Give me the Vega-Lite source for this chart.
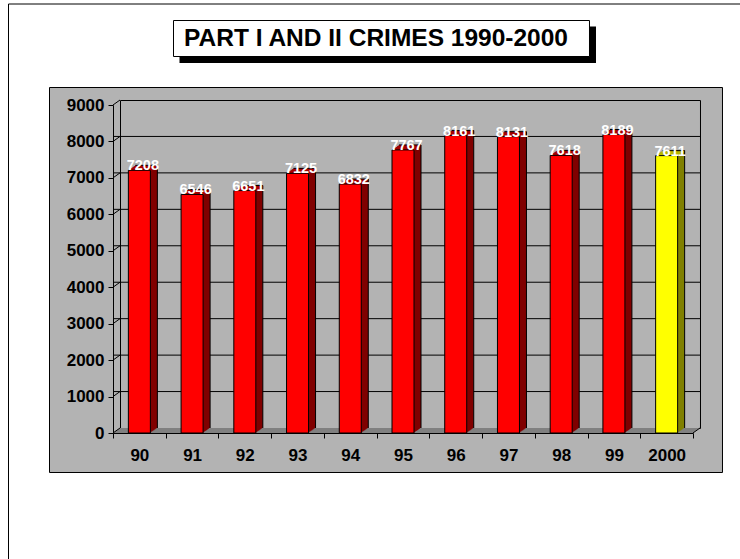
{
  "$schema": "https://vega.github.io/schema/vega-lite/v6.json",
  "width": 580,
  "height": 328,
  "autosize": "none",
  "padding": {"left": 113, "top": 105, "right": 47, "bottom": 126},
  "background": "white",
  "config": {
    "view": {"stroke": null},
    "axis": {"domainColor": "black", "tickColor": "black", "labelColor": "black", "labelFont": "Liberation Sans", "labelFontSize": 17, "labelFontWeight": "bold", "tickSize": 5, "grid": false, "zindex": 1, "labelOverlap": false},
    "axisX": {"labelAngle": 0, "tickBand": "extent", "labelPadding": 9},
    "axisY": {"labelPadding": 4, "tickCount": 9, "format": "d"}
  },
  "datasets": {
    "crimes": [
      {"year": "90", "crimes": 7208},
      {"year": "91", "crimes": 6546},
      {"year": "92", "crimes": 6651},
      {"year": "93", "crimes": 7125},
      {"year": "94", "crimes": 6832},
      {"year": "95", "crimes": 7767},
      {"year": "96", "crimes": 8161},
      {"year": "97", "crimes": 8131},
      {"year": "98", "crimes": 7618},
      {"year": "99", "crimes": 8189},
      {"year": "2000", "crimes": 7611}
    ],
    "grid": [{"v": 1000}, {"v": 2000}, {"v": 3000}, {"v": 4000}, {"v": 5000}, {"v": 6000}, {"v": 7000}, {"v": 8000}],
    "ticks": [{"v": 0}, {"v": 1000}, {"v": 2000}, {"v": 3000}, {"v": 4000}, {"v": 5000}, {"v": 6000}, {"v": 7000}, {"v": 8000}, {"v": 9000}],
    "one": [{"t": "PART I AND II CRIMES 1990-2000"}]
  },
  "data": {"name": "crimes"},
  "layer": [
    {"data": {"name": "one"}, "mark": {"type": "rect", "fillOpacity": 0, "stroke": "black", "strokeWidth": 1, "xOffset": -130.86, "x2Offset": 133.36, "yOffset": -101, "y2Offset": 167}, "encoding": {"x": {"datum": "90", "type": "nominal", "bandPosition": 0.5, "scale": {"domain": ["90", "91", "92", "93", "94", "95", "96", "97", "98", "99", "2000"], "paddingInner": 0, "paddingOuter": 0}, "title": null, "axis": {"zindex": 1}}, "x2": {"datum": "2000", "bandPosition": 0.5}, "y": {"datum": 9000, "type": "quantitative", "scale": {"domain": [0, 9000], "nice": false}, "title": null, "axis": {"zindex": 1}}, "y2": {"datum": 0}}},
    {"data": {"name": "one"}, "mark": {"type": "rect", "fill": "#b3b3b3", "stroke": "black", "strokeWidth": 1, "xOffset": -89.86, "x2Offset": 55.86, "yOffset": -17.5, "y2Offset": 39.5}, "encoding": {"x": {"datum": "90", "type": "nominal", "bandPosition": 0.5, "scale": {"domain": ["90", "91", "92", "93", "94", "95", "96", "97", "98", "99", "2000"], "paddingInner": 0, "paddingOuter": 0}, "title": null}, "x2": {"datum": "2000", "bandPosition": 0.5}, "y": {"datum": 9000, "type": "quantitative", "scale": {"domain": [0, 9000], "nice": false}, "title": null}, "y2": {"datum": 0}}},
    {"data": {"name": "one"}, "mark": {"type": "rect", "fill": "black", "strokeWidth": 0, "xOffset": 40.14, "x2Offset": -70.64, "yOffset": -78.5, "y2Offset": -370}, "encoding": {"x": {"datum": "90", "type": "nominal", "bandPosition": 0.5, "scale": {"domain": ["90", "91", "92", "93", "94", "95", "96", "97", "98", "99", "2000"], "paddingInner": 0, "paddingOuter": 0}, "title": null}, "x2": {"datum": "2000", "bandPosition": 0.5}, "y": {"datum": 9000, "type": "quantitative", "scale": {"domain": [0, 9000], "nice": false}, "title": null}, "y2": {"datum": 0}}},
    {"data": {"name": "one"}, "mark": {"type": "rect", "fill": "white", "stroke": "black", "strokeWidth": 1, "xOffset": 34.14, "x2Offset": -77.14, "yOffset": -84.5, "y2Offset": -376.5}, "encoding": {"x": {"datum": "90", "type": "nominal", "bandPosition": 0.5, "scale": {"domain": ["90", "91", "92", "93", "94", "95", "96", "97", "98", "99", "2000"], "paddingInner": 0, "paddingOuter": 0}, "title": null}, "x2": {"datum": "2000", "bandPosition": 0.5}, "y": {"datum": 9000, "type": "quantitative", "scale": {"domain": [0, 9000], "nice": false}, "title": null}, "y2": {"datum": 0}}},
    {"data": {"name": "one"}, "mark": {"type": "text", "font": "Liberation Sans", "fontSize": 24.5, "fontWeight": "bold", "color": "black", "align": "center", "baseline": "alphabetic", "xOffset": -27, "yOffset": -223.3}, "encoding": {"text": {"field": "t"}}},
    {"data": {"name": "one"}, "mark": {"type": "rect", "fillOpacity": 0, "stroke": "black", "strokeWidth": 1, "xOffset": -18.86, "x2Offset": 33.86, "yOffset": -4.5, "y2Offset": -4.5}, "encoding": {"x": {"datum": "90", "type": "nominal", "bandPosition": 0.5, "scale": {"domain": ["90", "91", "92", "93", "94", "95", "96", "97", "98", "99", "2000"], "paddingInner": 0, "paddingOuter": 0}, "title": null}, "x2": {"datum": "2000", "bandPosition": 0.5}, "y": {"datum": 9000, "type": "quantitative", "scale": {"domain": [0, 9000], "nice": false}, "title": null}, "y2": {"datum": 0}}},
    {"data": {"name": "grid"}, "mark": {"type": "rule", "color": "black", "strokeWidth": 1, "xOffset": 7, "x2Offset": 7, "yOffset": -5}, "encoding": {"y": {"field": "v", "type": "quantitative", "scale": {"domain": [0, 9000], "nice": false}, "title": null}}},
    {"data": {"name": "one"}, "mark": {"type": "rect", "fill": "#808080", "strokeWidth": 0, "xOffset": -25.66, "x2Offset": 27.06, "yOffset": -1, "y2Offset": 0}, "encoding": {"x": {"datum": "90", "type": "nominal", "bandPosition": 0.5, "scale": {"domain": ["90", "91", "92", "93", "94", "95", "96", "97", "98", "99", "2000"], "paddingInner": 0, "paddingOuter": 0}, "title": null}, "x2": {"datum": "2000", "bandPosition": 0.5}, "y": {"datum": 0, "type": "quantitative", "scale": {"domain": [0, 9000], "nice": false}, "title": null}, "y2": {"datum": 0}}},
    {"data": {"name": "one"}, "mark": {"type": "rect", "fill": "#808080", "strokeWidth": 0, "xOffset": -24.26, "x2Offset": 28.46, "yOffset": -2, "y2Offset": -1}, "encoding": {"x": {"datum": "90", "type": "nominal", "bandPosition": 0.5, "scale": {"domain": ["90", "91", "92", "93", "94", "95", "96", "97", "98", "99", "2000"], "paddingInner": 0, "paddingOuter": 0}, "title": null}, "x2": {"datum": "2000", "bandPosition": 0.5}, "y": {"datum": 0, "type": "quantitative", "scale": {"domain": [0, 9000], "nice": false}, "title": null}, "y2": {"datum": 0}}},
    {"data": {"name": "one"}, "mark": {"type": "rect", "fill": "#808080", "strokeWidth": 0, "xOffset": -22.86, "x2Offset": 29.86, "yOffset": -3, "y2Offset": -2}, "encoding": {"x": {"datum": "90", "type": "nominal", "bandPosition": 0.5, "scale": {"domain": ["90", "91", "92", "93", "94", "95", "96", "97", "98", "99", "2000"], "paddingInner": 0, "paddingOuter": 0}, "title": null}, "x2": {"datum": "2000", "bandPosition": 0.5}, "y": {"datum": 0, "type": "quantitative", "scale": {"domain": [0, 9000], "nice": false}, "title": null}, "y2": {"datum": 0}}},
    {"data": {"name": "one"}, "mark": {"type": "rect", "fill": "#808080", "strokeWidth": 0, "xOffset": -21.46, "x2Offset": 31.26, "yOffset": -4, "y2Offset": -3}, "encoding": {"x": {"datum": "90", "type": "nominal", "bandPosition": 0.5, "scale": {"domain": ["90", "91", "92", "93", "94", "95", "96", "97", "98", "99", "2000"], "paddingInner": 0, "paddingOuter": 0}, "title": null}, "x2": {"datum": "2000", "bandPosition": 0.5}, "y": {"datum": 0, "type": "quantitative", "scale": {"domain": [0, 9000], "nice": false}, "title": null}, "y2": {"datum": 0}}},
    {"data": {"name": "one"}, "mark": {"type": "rect", "fill": "#808080", "strokeWidth": 0, "xOffset": -20.06, "x2Offset": 32.66, "yOffset": -5, "y2Offset": -4}, "encoding": {"x": {"datum": "90", "type": "nominal", "bandPosition": 0.5, "scale": {"domain": ["90", "91", "92", "93", "94", "95", "96", "97", "98", "99", "2000"], "paddingInner": 0, "paddingOuter": 0}, "title": null}, "x2": {"datum": "2000", "bandPosition": 0.5}, "y": {"datum": 0, "type": "quantitative", "scale": {"domain": [0, 9000], "nice": false}, "title": null}, "y2": {"datum": 0}}},
    {"data": {"name": "ticks"}, "mark": {"type": "point", "shape": "M-1,0.714L1,-0.714", "size": 49, "filled": false, "stroke": "black", "strokeWidth": 1, "opacity": 1, "xOffset": -22.86, "yOffset": -2.5}, "encoding": {"x": {"datum": "90", "type": "nominal", "scale": {"domain": ["90", "91", "92", "93", "94", "95", "96", "97", "98", "99", "2000"], "paddingInner": 0, "paddingOuter": 0}, "title": null}, "y": {"field": "v", "type": "quantitative", "scale": {"domain": [0, 9000], "nice": false}, "title": null}}},
    {"data": {"name": "one"}, "mark": {"type": "point", "shape": "M-1,0.714L1,-0.714", "size": 49, "filled": false, "stroke": "black", "strokeWidth": 1, "opacity": 1, "xOffset": 29.86, "yOffset": -2.5}, "encoding": {"x": {"datum": "2000", "type": "nominal", "scale": {"domain": ["90", "91", "92", "93", "94", "95", "96", "97", "98", "99", "2000"], "paddingInner": 0, "paddingOuter": 0}, "title": null}, "y": {"datum": 0, "type": "quantitative", "scale": {"domain": [0, 9000], "nice": false}, "title": null}}},

    {"mark": {"type": "bar", "width": 22, "strokeWidth": 0, "xOffset": 7, "yOffset": -5, "y2Offset": -5}, "encoding": {"x": {"field": "year", "type": "nominal", "scale": {"domain": ["90", "91", "92", "93", "94", "95", "96", "97", "98", "99", "2000"], "paddingInner": 0, "paddingOuter": 0}, "title": null}, "y": {"field": "crimes", "type": "quantitative", "scale": {"domain": [0, 9000], "nice": false}, "title": null}, "color": {"condition": {"test": "datum.year === '2000'", "value": "#808000"}, "value": "#800000"}}},
    {"mark": {"type": "bar", "width": 22, "strokeWidth": 0, "xOffset": 7, "yOffset": -5, "y2Offset": -3.8}, "encoding": {"x": {"field": "year", "type": "nominal", "scale": {"domain": ["90", "91", "92", "93", "94", "95", "96", "97", "98", "99", "2000"], "paddingInner": 0, "paddingOuter": 0}, "title": null}, "y": {"field": "crimes", "type": "quantitative", "scale": {"domain": [0, 9000], "nice": false}, "title": null}, "y2": {"field": "crimes"}, "color": {"condition": {"test": "datum.year === '2000'", "value": "#c8c800"}, "value": "#b00000"}}},
    {"mark": {"type": "bar", "width": 22, "strokeWidth": 0, "xOffset": 6, "yOffset": -4.286, "y2Offset": -4.286}, "encoding": {"x": {"field": "year", "type": "nominal", "scale": {"domain": ["90", "91", "92", "93", "94", "95", "96", "97", "98", "99", "2000"], "paddingInner": 0, "paddingOuter": 0}, "title": null}, "y": {"field": "crimes", "type": "quantitative", "scale": {"domain": [0, 9000], "nice": false}, "title": null}, "color": {"condition": {"test": "datum.year === '2000'", "value": "#808000"}, "value": "#800000"}}},
    {"mark": {"type": "bar", "width": 22, "strokeWidth": 0, "xOffset": 6, "yOffset": -4.286, "y2Offset": -3.086}, "encoding": {"x": {"field": "year", "type": "nominal", "scale": {"domain": ["90", "91", "92", "93", "94", "95", "96", "97", "98", "99", "2000"], "paddingInner": 0, "paddingOuter": 0}, "title": null}, "y": {"field": "crimes", "type": "quantitative", "scale": {"domain": [0, 9000], "nice": false}, "title": null}, "y2": {"field": "crimes"}, "color": {"condition": {"test": "datum.year === '2000'", "value": "#c8c800"}, "value": "#b00000"}}},
    {"mark": {"type": "bar", "width": 22, "strokeWidth": 0, "xOffset": 5, "yOffset": -3.571, "y2Offset": -3.571}, "encoding": {"x": {"field": "year", "type": "nominal", "scale": {"domain": ["90", "91", "92", "93", "94", "95", "96", "97", "98", "99", "2000"], "paddingInner": 0, "paddingOuter": 0}, "title": null}, "y": {"field": "crimes", "type": "quantitative", "scale": {"domain": [0, 9000], "nice": false}, "title": null}, "color": {"condition": {"test": "datum.year === '2000'", "value": "#808000"}, "value": "#800000"}}},
    {"mark": {"type": "bar", "width": 22, "strokeWidth": 0, "xOffset": 5, "yOffset": -3.571, "y2Offset": -2.371}, "encoding": {"x": {"field": "year", "type": "nominal", "scale": {"domain": ["90", "91", "92", "93", "94", "95", "96", "97", "98", "99", "2000"], "paddingInner": 0, "paddingOuter": 0}, "title": null}, "y": {"field": "crimes", "type": "quantitative", "scale": {"domain": [0, 9000], "nice": false}, "title": null}, "y2": {"field": "crimes"}, "color": {"condition": {"test": "datum.year === '2000'", "value": "#c8c800"}, "value": "#b00000"}}},
    {"mark": {"type": "bar", "width": 22, "strokeWidth": 0, "xOffset": 4, "yOffset": -2.857, "y2Offset": -2.857}, "encoding": {"x": {"field": "year", "type": "nominal", "scale": {"domain": ["90", "91", "92", "93", "94", "95", "96", "97", "98", "99", "2000"], "paddingInner": 0, "paddingOuter": 0}, "title": null}, "y": {"field": "crimes", "type": "quantitative", "scale": {"domain": [0, 9000], "nice": false}, "title": null}, "color": {"condition": {"test": "datum.year === '2000'", "value": "#808000"}, "value": "#800000"}}},
    {"mark": {"type": "bar", "width": 22, "strokeWidth": 0, "xOffset": 4, "yOffset": -2.857, "y2Offset": -1.657}, "encoding": {"x": {"field": "year", "type": "nominal", "scale": {"domain": ["90", "91", "92", "93", "94", "95", "96", "97", "98", "99", "2000"], "paddingInner": 0, "paddingOuter": 0}, "title": null}, "y": {"field": "crimes", "type": "quantitative", "scale": {"domain": [0, 9000], "nice": false}, "title": null}, "y2": {"field": "crimes"}, "color": {"condition": {"test": "datum.year === '2000'", "value": "#c8c800"}, "value": "#b00000"}}},
    {"mark": {"type": "bar", "width": 22, "strokeWidth": 0, "xOffset": 3, "yOffset": -2.143, "y2Offset": -2.143}, "encoding": {"x": {"field": "year", "type": "nominal", "scale": {"domain": ["90", "91", "92", "93", "94", "95", "96", "97", "98", "99", "2000"], "paddingInner": 0, "paddingOuter": 0}, "title": null}, "y": {"field": "crimes", "type": "quantitative", "scale": {"domain": [0, 9000], "nice": false}, "title": null}, "color": {"condition": {"test": "datum.year === '2000'", "value": "#808000"}, "value": "#800000"}}},
    {"mark": {"type": "bar", "width": 22, "strokeWidth": 0, "xOffset": 3, "yOffset": -2.143, "y2Offset": -0.943}, "encoding": {"x": {"field": "year", "type": "nominal", "scale": {"domain": ["90", "91", "92", "93", "94", "95", "96", "97", "98", "99", "2000"], "paddingInner": 0, "paddingOuter": 0}, "title": null}, "y": {"field": "crimes", "type": "quantitative", "scale": {"domain": [0, 9000], "nice": false}, "title": null}, "y2": {"field": "crimes"}, "color": {"condition": {"test": "datum.year === '2000'", "value": "#c8c800"}, "value": "#b00000"}}},
    {"mark": {"type": "bar", "width": 22, "strokeWidth": 0, "xOffset": 2, "yOffset": -1.429, "y2Offset": -1.429}, "encoding": {"x": {"field": "year", "type": "nominal", "scale": {"domain": ["90", "91", "92", "93", "94", "95", "96", "97", "98", "99", "2000"], "paddingInner": 0, "paddingOuter": 0}, "title": null}, "y": {"field": "crimes", "type": "quantitative", "scale": {"domain": [0, 9000], "nice": false}, "title": null}, "color": {"condition": {"test": "datum.year === '2000'", "value": "#808000"}, "value": "#800000"}}},
    {"mark": {"type": "bar", "width": 22, "strokeWidth": 0, "xOffset": 2, "yOffset": -1.429, "y2Offset": -0.229}, "encoding": {"x": {"field": "year", "type": "nominal", "scale": {"domain": ["90", "91", "92", "93", "94", "95", "96", "97", "98", "99", "2000"], "paddingInner": 0, "paddingOuter": 0}, "title": null}, "y": {"field": "crimes", "type": "quantitative", "scale": {"domain": [0, 9000], "nice": false}, "title": null}, "y2": {"field": "crimes"}, "color": {"condition": {"test": "datum.year === '2000'", "value": "#c8c800"}, "value": "#b00000"}}},
    {"mark": {"type": "bar", "width": 22, "strokeWidth": 0, "xOffset": 1, "yOffset": -0.714, "y2Offset": -0.714}, "encoding": {"x": {"field": "year", "type": "nominal", "scale": {"domain": ["90", "91", "92", "93", "94", "95", "96", "97", "98", "99", "2000"], "paddingInner": 0, "paddingOuter": 0}, "title": null}, "y": {"field": "crimes", "type": "quantitative", "scale": {"domain": [0, 9000], "nice": false}, "title": null}, "color": {"condition": {"test": "datum.year === '2000'", "value": "#808000"}, "value": "#800000"}}},
    {"mark": {"type": "bar", "width": 22, "strokeWidth": 0, "xOffset": 1, "yOffset": -0.714, "y2Offset": 0.486}, "encoding": {"x": {"field": "year", "type": "nominal", "scale": {"domain": ["90", "91", "92", "93", "94", "95", "96", "97", "98", "99", "2000"], "paddingInner": 0, "paddingOuter": 0}, "title": null}, "y": {"field": "crimes", "type": "quantitative", "scale": {"domain": [0, 9000], "nice": false}, "title": null}, "y2": {"field": "crimes"}, "color": {"condition": {"test": "datum.year === '2000'", "value": "#c8c800"}, "value": "#b00000"}}},
    {"mark": {"type": "bar", "width": 22, "color": "black", "strokeWidth": 0, "xOffset": 7, "yOffset": -5.5, "y2Offset": -4.5}, "encoding": {"x": {"field": "year", "type": "nominal", "scale": {"domain": ["90", "91", "92", "93", "94", "95", "96", "97", "98", "99", "2000"], "paddingInner": 0, "paddingOuter": 0}, "title": null}, "y": {"field": "crimes", "type": "quantitative", "scale": {"domain": [0, 9000], "nice": false}, "title": null}, "y2": {"field": "crimes"}}},
    {"mark": {"type": "bar", "width": 1, "color": "black", "strokeWidth": 0, "xOffset": 18, "yOffset": -5, "y2Offset": -5}, "encoding": {"x": {"field": "year", "type": "nominal", "scale": {"domain": ["90", "91", "92", "93", "94", "95", "96", "97", "98", "99", "2000"], "paddingInner": 0, "paddingOuter": 0}, "title": null}, "y": {"field": "crimes", "type": "quantitative", "scale": {"domain": [0, 9000], "nice": false}, "title": null}}},
    {"mark": {"type": "bar", "width": 22, "stroke": "black", "strokeWidth": 1}, "encoding": {
      "x": {"field": "year", "type": "nominal", "scale": {"domain": ["90", "91", "92", "93", "94", "95", "96", "97", "98", "99", "2000"], "paddingInner": 0, "paddingOuter": 0}, "title": null, "axis": {"zindex": 1, "labelAngle": 0, "tickBand": "extent", "labelPadding": 9}},
      "y": {"field": "crimes", "type": "quantitative", "scale": {"domain": [0, 9000], "nice": false}, "title": null, "axis": {"zindex": 1, "tickCount": 9, "format": "d", "labelPadding": 4}},
      "color": {"condition": {"test": "datum.year === '2000'", "value": "#ffff00"}, "value": "#ff0000"}}},
    {"mark": {"type": "text", "font": "Liberation Sans", "fontSize": 14.5, "fontWeight": "bold", "color": "white", "align": "center", "baseline": "alphabetic", "xOffset": 3.5}, "encoding": {
      "x": {"field": "year", "type": "nominal", "scale": {"domain": ["90", "91", "92", "93", "94", "95", "96", "97", "98", "99", "2000"], "paddingInner": 0, "paddingOuter": 0}, "title": null},
      "y": {"field": "crimes", "type": "quantitative", "scale": {"domain": [0, 9000], "nice": false}, "title": null},
      "text": {"field": "crimes", "type": "quantitative", "format": "d"}}}
  ]
}
